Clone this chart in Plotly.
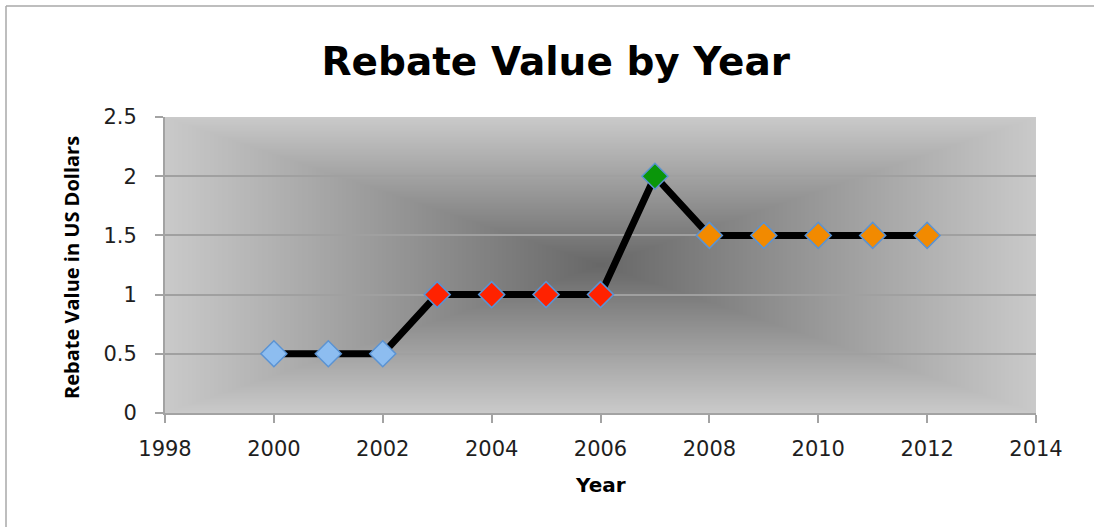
import base64
import struct
import zlib

import numpy as np
import plotly.graph_objects as go

# Rebate values per year, grouped by marker colour
years = [2000, 2001, 2002, 2003, 2004, 2005, 2006, 2007, 2008, 2009, 2010, 2011, 2012]
rebate = [0.5, 0.5, 0.5, 1, 1, 1, 1, 2, 1.5, 1.5, 1.5, 1.5, 1.5]
marker_colors = ["#8dbdf0"] * 3 + ["#ff2200"] * 4 + ["#0a960a"] + ["#f28a00"] * 5

x_ticks = [1998, 2000, 2002, 2004, 2006, 2008, 2010, 2012, 2014]
y_ticks = [0, 0.5, 1, 1.5, 2, 2.5]

TICK_FONT = dict(family="DejaVu Sans", size=21, color="#1e1e1e")


def gray_png(arr):
    """Encode a 2D uint8 array as a grayscale PNG data URI."""
    h, w = arr.shape
    raw = b"".join(b"\x00" + arr[i].tobytes() for i in range(h))

    def chunk(tag, data):
        body = tag + data
        return struct.pack(">I", len(data)) + body + struct.pack(">I", zlib.crc32(body) & 0xFFFFFFFF)

    png = (b"\x89PNG\r\n\x1a\n"
           + chunk(b"IHDR", struct.pack(">IIBBBBB", w, h, 8, 0, 0, 0, 0))
           + chunk(b"IDAT", zlib.compress(raw, 9))
           + chunk(b"IEND", b""))
    return "data:image/png;base64," + base64.b64encode(png).decode()


# Rectangular "from centre" shading for the plot area
gw, gh = 436, 148
u = np.abs(np.linspace(-1, 1, gw))[None, :]
v = np.abs(np.linspace(-1, 1, gh))[:, None]
t = np.maximum(u, v)
shade = (104 + (202 - 104) * t).clip(0, 255).astype(np.uint8)
bg_uri = gray_png(shade)

fig = go.Figure()

fig.add_trace(go.Scatter(
    x=years, y=rebate,
    mode="lines+markers",
    line=dict(color="black", width=7),
    marker=dict(symbol="diamond", size=20, color=marker_colors,
                line=dict(color="#5b93d3", width=1.5)),
    hoverinfo="x+y",
    showlegend=False,
))

fig.add_layout_image(dict(
    source=bg_uri, xref="x", yref="y",
    x=1998, y=2.5, sizex=16, sizey=2.5,
    sizing="stretch", layer="below", xanchor="left", yanchor="top",
))

border = dict(color="#a8a8a8", width=1.5)

fig.update_layout(
    width=1094, height=527,
    margin=dict(l=165, r=58, t=117, b=114),
    paper_bgcolor="white",
    plot_bgcolor="#c6c6c6",
    title=dict(text="<b>Rebate Value by Year</b>",
               font=dict(family="DejaVu Sans", size=39, color="black"),
               x=0.508, xanchor="center", y=1 - 61 / 527, yanchor="middle"),
    xaxis=dict(range=[1998, 2014], tickvals=x_ticks, showgrid=False, zeroline=False,
               showline=True, linecolor="#a3a3a3", linewidth=2,
               ticks="outside", ticklen=8, tickcolor="#a3a3a3", tickwidth=2,
               tickfont=TICK_FONT, ticklabelstandoff=8),
    yaxis=dict(range=[0, 2.5], tickvals=y_ticks, showgrid=True, gridcolor="#a0a0a0",
               gridwidth=1.5, zeroline=False,
               showline=True, linecolor="#a3a3a3", linewidth=2,
               ticks="outside", ticklen=8, tickcolor="#a3a3a3", tickwidth=2,
               tickfont=TICK_FONT, ticklabelstandoff=14),
    annotations=[
        dict(text="<b>Rebate Value in US Dollars</b>", textangle=-90,
             xref="paper", yref="paper", x=(72 - 165) / 871, y=0.49,
             xanchor="center", yanchor="middle", showarrow=False,
             font=dict(family="Open Sans", size=20, color="black")),
        dict(text="<b>Year</b>",
             xref="paper", yref="paper", x=0.5, y=(413 - 485) / 296,
             xanchor="center", yanchor="middle", showarrow=False,
             font=dict(family="DejaVu Sans", size=20, color="black")),
    ],
    shapes=[
        # outer chart frame: top and left edges
        dict(type="line", xref="paper", yref="paper",
             x0=(6 - 165) / 871, x1=(1094 - 165) / 871,
             y0=(413 - 6) / 296, y1=(413 - 6) / 296, line=border),
        dict(type="line", xref="paper", yref="paper",
             x0=(6 - 165) / 871, x1=(6 - 165) / 871,
             y0=(413 - 6) / 296, y1=(413 - 527) / 296, line=border),
    ],
)

fig.write_html("out.html")
